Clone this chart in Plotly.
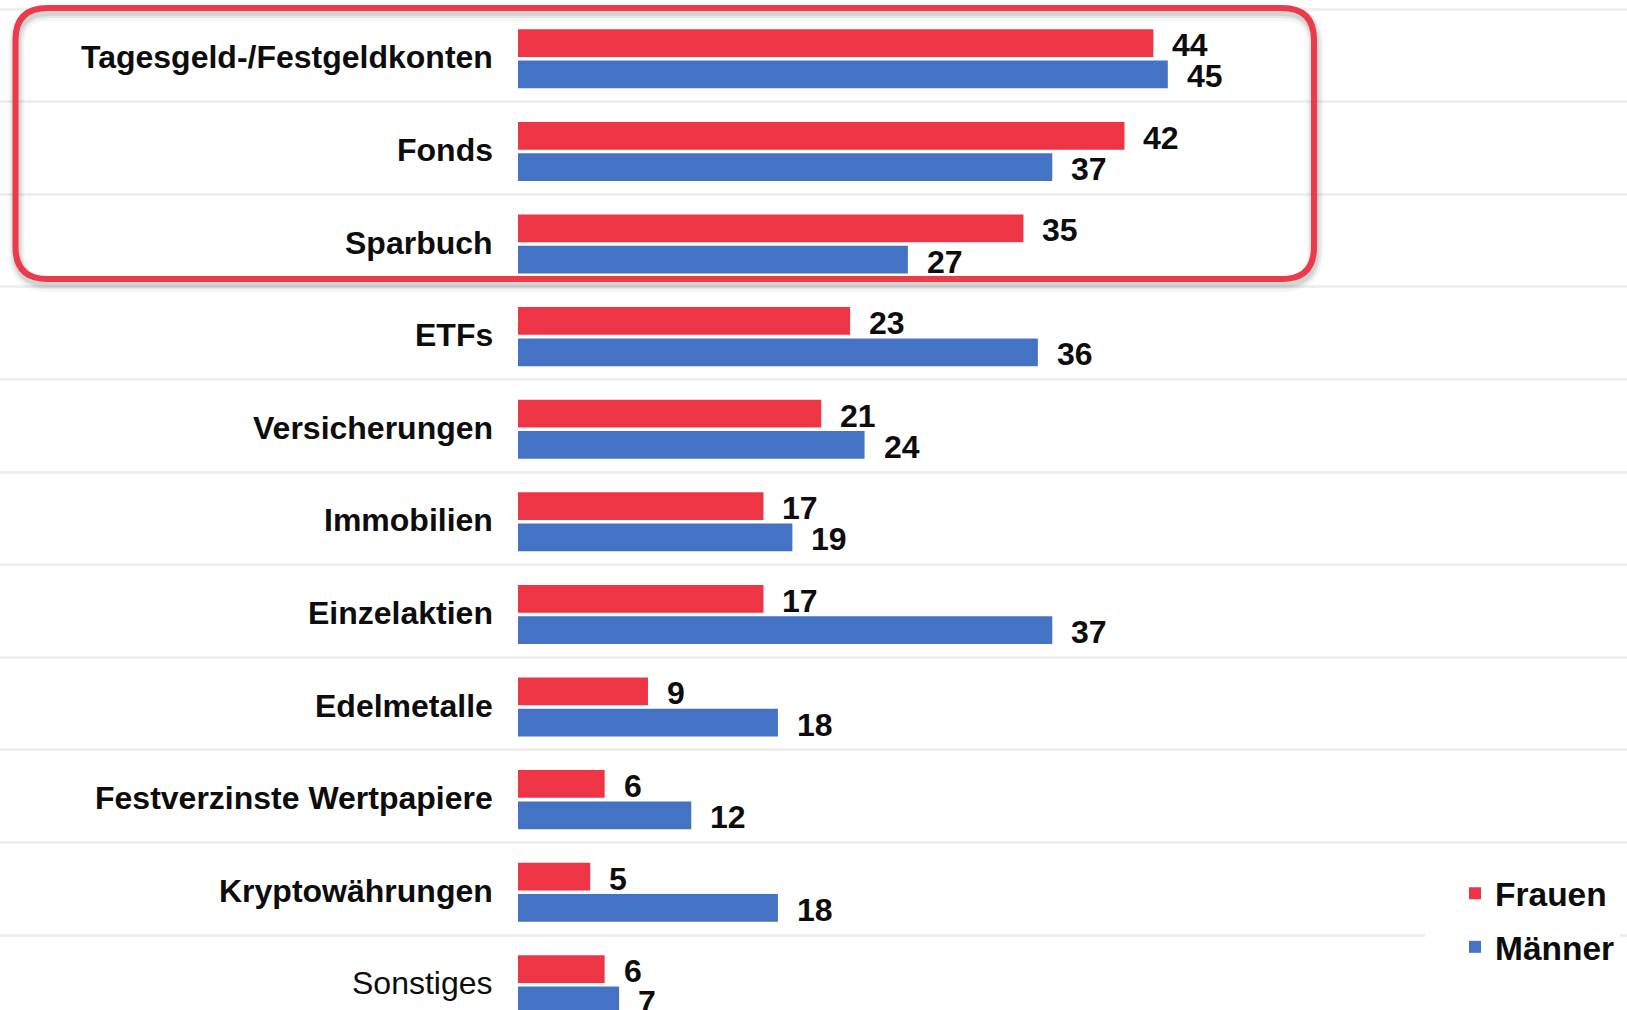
import plotly.graph_objects as go

categories = ["Tagesgeld-/Festgeldkonten", "Fonds", "Sparbuch", "ETFs", "Versicherungen",
              "Immobilien", "Einzelaktien", "Edelmetalle", "Festverzinste Wertpapiere",
              "Kryptowährungen", "Sonstiges"]
frauen = [44, 42, 35, 23, 21, 17, 17, 9, 6, 5, 6]
maenner = [45, 37, 27, 36, 24, 19, 37, 18, 12, 18, 7]
series_names = ["Frauen", "Männer"]

W, H = 1627, 1010
RED = "#EE3545"
BLUE = "#4472C4"
ARIAL = "Liberation Sans, Arial, sans-serif"
NUMFONT = "Liberation Sans Narrow, Arial Narrow, Liberation Sans, sans-serif"

BAR_W = 0.30
OFFSETS = [-0.282, 0.056]

fig = go.Figure()
for name, vals, col, off in [(series_names[0], frauen, RED, OFFSETS[0]),
                             (series_names[1], maenner, BLUE, OFFSETS[1])]:
    fig.add_trace(go.Bar(
        y=categories, x=vals, name=name, orientation="h",
        marker=dict(color=col, line=dict(width=0)),
        width=BAR_W, offset=off, legendgroup=name,
    ))
    # value labels next to bar ends
    for i, v in enumerate(vals):
        fig.add_annotation(
            x=v, y=i + off + BAR_W / 2, xref="x", yref="y", text=f"<b>{v}</b>",
            showarrow=False, xanchor="left", yanchor="middle", xshift=17, yshift=-2,
            font=dict(family=NUMFONT, size=32, color="#0d0d0d"),
        )

# category labels
for c in categories:
    bold = c != "Sonstiges"
    fig.add_annotation(
        x=0, y=c, xref="x", yref="y", text=f"<b>{c}</b>" if bold else c,
        showarrow=False, xanchor="right", yanchor="middle", xshift=-23, yshift=-2,
        font=dict(family=ARIAL, size=32, color="#0d0d0d"),
    )

def rounded_path(x0, y0, x1, y1, r):
    def P(px, py):
        return f"{px / W:.5f},{1 - py / H:.5f}"
    return (f"M {P(x0 + r, y0)} L {P(x1 - r, y0)} Q {P(x1, y0)} {P(x1, y0 + r)} "
            f"L {P(x1, y1 - r)} Q {P(x1, y1)} {P(x1 - r, y1)} L {P(x0 + r, y1)} "
            f"Q {P(x0, y1)} {P(x0, y1 - r)} L {P(x0, y0 + r)} Q {P(x0, y0)} {P(x0 + r, y0)} Z")

BOX = (15.5, 8, 1314, 279, 32)
for dx, dy, w, col in [(1, 5, 16, "rgba(0,0,0,0.04)"), (1, 4, 12, "rgba(0,0,0,0.06)"),
                       (1, 4, 8, "rgba(0,0,0,0.08)")]:
    fig.add_shape(type="path", xref="paper", yref="paper",
                  path=rounded_path(BOX[0] + dx, BOX[1] + dy, BOX[2] + dx, BOX[3] + dy, BOX[4]),
                  line=dict(color=col, width=w), layer="above")
fig.add_shape(type="path", xref="paper", yref="paper",
              path=rounded_path(*BOX),
              line=dict(color="#EC3A4B", width=6), layer="above")

px_per_unit = 14.44
x0_px = 518
band = 92.6
first_center = 55.4

fig.update_layout(
    width=W, height=H,
    margin=dict(l=0, r=0, t=0, b=0),
    paper_bgcolor="white", plot_bgcolor="white",
    barmode="group",
    xaxis=dict(range=[-x0_px / px_per_unit, (W - x0_px) / px_per_unit],
               showgrid=False, zeroline=False, showticklabels=False, fixedrange=True),
    yaxis=dict(type="category", categoryorder="array", categoryarray=categories,
               range=[(H - first_center) / band, -first_center / band],
               tickson="boundaries", showgrid=True, gridcolor="#EEEEEE", gridwidth=3,
               showticklabels=False, ticks="", zeroline=False, showline=False),
    legend=dict(x=1425 / W, xanchor="left", y=1 - 865 / H, yanchor="top",
                bgcolor="white", indentation=30,
                font=dict(family=ARIAL, size=33.5, color="#0d0d0d", weight="bold"),
                traceorder="grouped", tracegroupgap=7),
    showlegend=True,
)

fig.write_html("out.html", post_script="document.body.style.margin='0';",
               config={"displayModeBar": False})
